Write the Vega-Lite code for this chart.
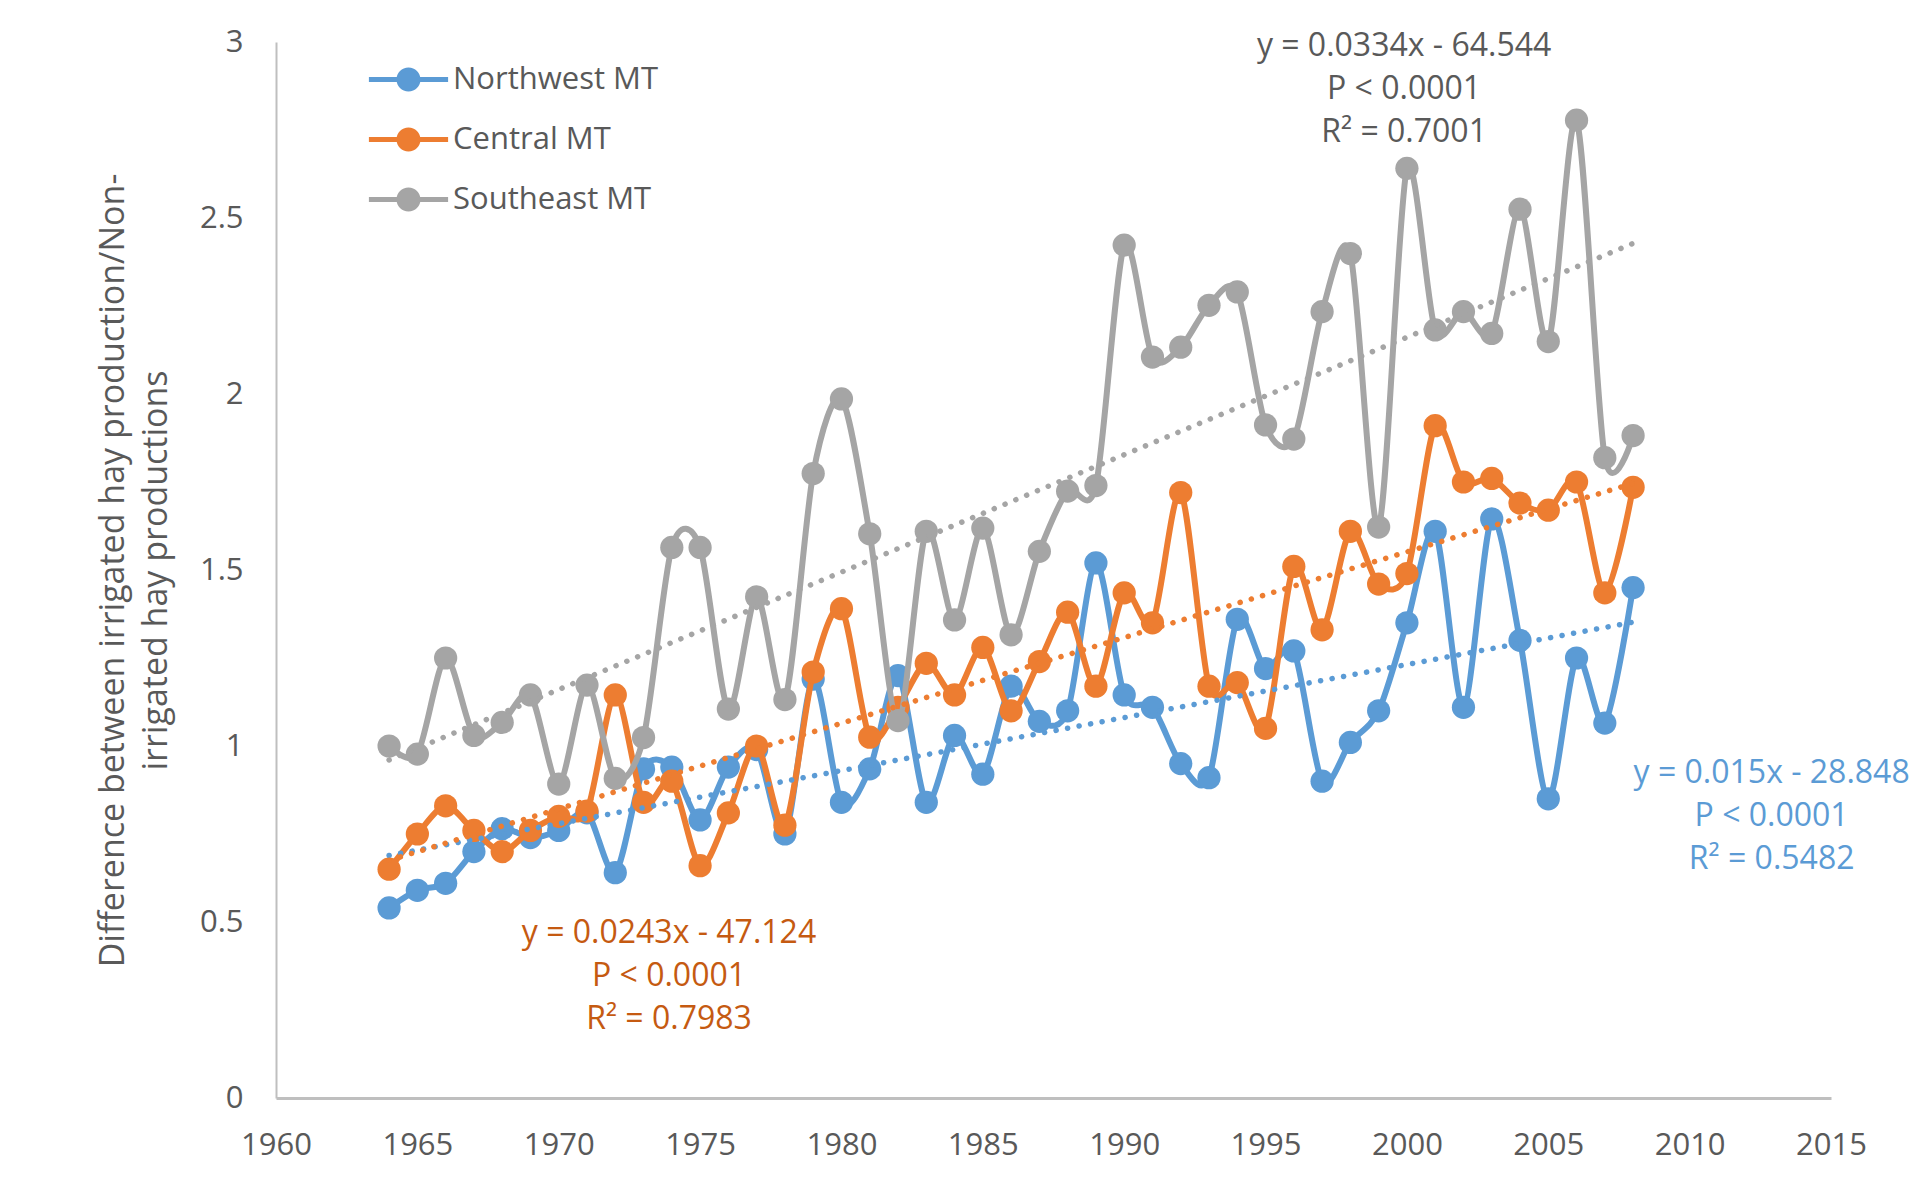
{
  "$schema": "https://vega.github.io/schema/vega-lite/v6.json",
  "width": 1555,
  "height": 1056,
  "autosize": {"type": "none"},
  "padding": {"left": 276, "top": 42, "right": 95, "bottom": 100},
  "background": "white",
  "config": {
    "view": {"stroke": null},
    "font": "Open Sans",
    "axis": {"labelFont": "Open Sans", "titleFont": "Open Sans", "labelFontSize": 31, "labelColor": "#595959", "titleColor": "#595959", "ticks": false, "grid": false, "labelFlush": false},
    "legend": {"labelFont": "Open Sans"}
  },
  "datasets": {
    "hay": [
      {"series": "Northwest MT", "year": 1964, "value": 0.54},
      {"series": "Northwest MT", "year": 1965, "value": 0.59},
      {"series": "Northwest MT", "year": 1966, "value": 0.61},
      {"series": "Northwest MT", "year": 1967, "value": 0.70},
      {"series": "Northwest MT", "year": 1968, "value": 0.765},
      {"series": "Northwest MT", "year": 1969, "value": 0.74},
      {"series": "Northwest MT", "year": 1970, "value": 0.76},
      {"series": "Northwest MT", "year": 1971, "value": 0.81},
      {"series": "Northwest MT", "year": 1972, "value": 0.64},
      {"series": "Northwest MT", "year": 1973, "value": 0.935},
      {"series": "Northwest MT", "year": 1974, "value": 0.94},
      {"series": "Northwest MT", "year": 1975, "value": 0.79},
      {"series": "Northwest MT", "year": 1976, "value": 0.94},
      {"series": "Northwest MT", "year": 1977, "value": 0.99},
      {"series": "Northwest MT", "year": 1978, "value": 0.75},
      {"series": "Northwest MT", "year": 1979, "value": 1.19},
      {"series": "Northwest MT", "year": 1980, "value": 0.84},
      {"series": "Northwest MT", "year": 1981, "value": 0.935},
      {"series": "Northwest MT", "year": 1982, "value": 1.20},
      {"series": "Northwest MT", "year": 1983, "value": 0.84},
      {"series": "Northwest MT", "year": 1984, "value": 1.03},
      {"series": "Northwest MT", "year": 1985, "value": 0.92},
      {"series": "Northwest MT", "year": 1986, "value": 1.17},
      {"series": "Northwest MT", "year": 1987, "value": 1.07},
      {"series": "Northwest MT", "year": 1988, "value": 1.10},
      {"series": "Northwest MT", "year": 1989, "value": 1.52},
      {"series": "Northwest MT", "year": 1990, "value": 1.145},
      {"series": "Northwest MT", "year": 1991, "value": 1.11},
      {"series": "Northwest MT", "year": 1992, "value": 0.95},
      {"series": "Northwest MT", "year": 1993, "value": 0.91},
      {"series": "Northwest MT", "year": 1994, "value": 1.36},
      {"series": "Northwest MT", "year": 1995, "value": 1.22},
      {"series": "Northwest MT", "year": 1996, "value": 1.27},
      {"series": "Northwest MT", "year": 1997, "value": 0.90},
      {"series": "Northwest MT", "year": 1998, "value": 1.01},
      {"series": "Northwest MT", "year": 1999, "value": 1.10},
      {"series": "Northwest MT", "year": 2000, "value": 1.35},
      {"series": "Northwest MT", "year": 2001, "value": 1.61},
      {"series": "Northwest MT", "year": 2002, "value": 1.11},
      {"series": "Northwest MT", "year": 2003, "value": 1.645},
      {"series": "Northwest MT", "year": 2004, "value": 1.30},
      {"series": "Northwest MT", "year": 2005, "value": 0.85},
      {"series": "Northwest MT", "year": 2006, "value": 1.25},
      {"series": "Northwest MT", "year": 2007, "value": 1.065},
      {"series": "Northwest MT", "year": 2008, "value": 1.45},
      {"series": "Central MT", "year": 1964, "value": 0.65},
      {"series": "Central MT", "year": 1965, "value": 0.75},
      {"series": "Central MT", "year": 1966, "value": 0.83},
      {"series": "Central MT", "year": 1967, "value": 0.76},
      {"series": "Central MT", "year": 1968, "value": 0.70},
      {"series": "Central MT", "year": 1969, "value": 0.76},
      {"series": "Central MT", "year": 1970, "value": 0.80},
      {"series": "Central MT", "year": 1971, "value": 0.815},
      {"series": "Central MT", "year": 1972, "value": 1.145},
      {"series": "Central MT", "year": 1973, "value": 0.84},
      {"series": "Central MT", "year": 1974, "value": 0.90},
      {"series": "Central MT", "year": 1975, "value": 0.66},
      {"series": "Central MT", "year": 1976, "value": 0.81},
      {"series": "Central MT", "year": 1977, "value": 1.00},
      {"series": "Central MT", "year": 1978, "value": 0.775},
      {"series": "Central MT", "year": 1979, "value": 1.21},
      {"series": "Central MT", "year": 1980, "value": 1.39},
      {"series": "Central MT", "year": 1981, "value": 1.025},
      {"series": "Central MT", "year": 1982, "value": 1.11},
      {"series": "Central MT", "year": 1983, "value": 1.235},
      {"series": "Central MT", "year": 1984, "value": 1.145},
      {"series": "Central MT", "year": 1985, "value": 1.28},
      {"series": "Central MT", "year": 1986, "value": 1.10},
      {"series": "Central MT", "year": 1987, "value": 1.24},
      {"series": "Central MT", "year": 1988, "value": 1.38},
      {"series": "Central MT", "year": 1989, "value": 1.17},
      {"series": "Central MT", "year": 1990, "value": 1.435},
      {"series": "Central MT", "year": 1991, "value": 1.35},
      {"series": "Central MT", "year": 1992, "value": 1.72},
      {"series": "Central MT", "year": 1993, "value": 1.17},
      {"series": "Central MT", "year": 1994, "value": 1.18},
      {"series": "Central MT", "year": 1995, "value": 1.05},
      {"series": "Central MT", "year": 1996, "value": 1.51},
      {"series": "Central MT", "year": 1997, "value": 1.33},
      {"series": "Central MT", "year": 1998, "value": 1.61},
      {"series": "Central MT", "year": 1999, "value": 1.46},
      {"series": "Central MT", "year": 2000, "value": 1.49},
      {"series": "Central MT", "year": 2001, "value": 1.91},
      {"series": "Central MT", "year": 2002, "value": 1.75},
      {"series": "Central MT", "year": 2003, "value": 1.76},
      {"series": "Central MT", "year": 2004, "value": 1.69},
      {"series": "Central MT", "year": 2005, "value": 1.67},
      {"series": "Central MT", "year": 2006, "value": 1.75},
      {"series": "Central MT", "year": 2007, "value": 1.435},
      {"series": "Central MT", "year": 2008, "value": 1.735},
      {"series": "Southeast MT", "year": 1964, "value": 1.00},
      {"series": "Southeast MT", "year": 1965, "value": 0.977},
      {"series": "Southeast MT", "year": 1966, "value": 1.25},
      {"series": "Southeast MT", "year": 1967, "value": 1.03},
      {"series": "Southeast MT", "year": 1968, "value": 1.067},
      {"series": "Southeast MT", "year": 1969, "value": 1.145},
      {"series": "Southeast MT", "year": 1970, "value": 0.892},
      {"series": "Southeast MT", "year": 1971, "value": 1.173},
      {"series": "Southeast MT", "year": 1972, "value": 0.908},
      {"series": "Southeast MT", "year": 1973, "value": 1.024},
      {"series": "Southeast MT", "year": 1974, "value": 1.564},
      {"series": "Southeast MT", "year": 1975, "value": 1.564},
      {"series": "Southeast MT", "year": 1976, "value": 1.105},
      {"series": "Southeast MT", "year": 1977, "value": 1.424},
      {"series": "Southeast MT", "year": 1978, "value": 1.132},
      {"series": "Southeast MT", "year": 1979, "value": 1.774},
      {"series": "Southeast MT", "year": 1980, "value": 1.986},
      {"series": "Southeast MT", "year": 1981, "value": 1.603},
      {"series": "Southeast MT", "year": 1982, "value": 1.072},
      {"series": "Southeast MT", "year": 1983, "value": 1.61},
      {"series": "Southeast MT", "year": 1984, "value": 1.358},
      {"series": "Southeast MT", "year": 1985, "value": 1.619},
      {"series": "Southeast MT", "year": 1986, "value": 1.316},
      {"series": "Southeast MT", "year": 1987, "value": 1.553},
      {"series": "Southeast MT", "year": 1988, "value": 1.724},
      {"series": "Southeast MT", "year": 1989, "value": 1.74},
      {"series": "Southeast MT", "year": 1990, "value": 2.423},
      {"series": "Southeast MT", "year": 1991, "value": 2.105},
      {"series": "Southeast MT", "year": 1992, "value": 2.133},
      {"series": "Southeast MT", "year": 1993, "value": 2.252},
      {"series": "Southeast MT", "year": 1994, "value": 2.29},
      {"series": "Southeast MT", "year": 1995, "value": 1.912},
      {"series": "Southeast MT", "year": 1996, "value": 1.872},
      {"series": "Southeast MT", "year": 1997, "value": 2.234},
      {"series": "Southeast MT", "year": 1998, "value": 2.399},
      {"series": "Southeast MT", "year": 1999, "value": 1.622},
      {"series": "Southeast MT", "year": 2000, "value": 2.641},
      {"series": "Southeast MT", "year": 2001, "value": 2.182},
      {"series": "Southeast MT", "year": 2002, "value": 2.234},
      {"series": "Southeast MT", "year": 2003, "value": 2.172},
      {"series": "Southeast MT", "year": 2004, "value": 2.525},
      {"series": "Southeast MT", "year": 2005, "value": 2.149},
      {"series": "Southeast MT", "year": 2006, "value": 2.778},
      {"series": "Southeast MT", "year": 2007, "value": 1.819},
      {"series": "Southeast MT", "year": 2008, "value": 1.882}
    ],
    "notes": [
      {"series": "Southeast MT", "year": 1999.9, "value": 2.99, "label": ["y = 0.0334x - 64.544", "P < 0.0001", "R² = 0.7001"]},
      {"series": "Central MT", "year": 1973.9, "value": 0.468, "label": ["y = 0.0243x - 47.124", "P < 0.0001", "R² = 0.7983"]},
      {"series": "Northwest MT", "year": 2012.9, "value": 0.922, "label": ["y = 0.015x - 28.848", "P < 0.0001", "R² = 0.5482"]}
    ]
  },
  "encoding": {
    "x": {"field": "year", "type": "quantitative", "scale": {"domain": [1960, 2015], "nice": false, "zero": false},
      "axis": {"values": [1960, 1965, 1970, 1975, 1980, 1985, 1990, 1995, 2000, 2005, 2010, 2015], "format": "d", "title": null, "labelPadding": 32, "domainColor": "#BFBFBF", "domainWidth": 3, "labelOverlap": false}},
    "y": {"field": "value", "type": "quantitative", "scale": {"domain": [0, 3], "nice": false},
      "axis": {"values": [0, 0.5, 1, 1.5, 2, 2.5, 3], "format": "~g", "labelPadding": 33, "domainColor": "#BFBFBF", "domainWidth": 2,
        "title": ["Difference between irrigated hay production/Non-", "irrigated hay productions"], "titleFontSize": 34, "titleFontWeight": "normal", "titleLineHeight": 43, "titlePadding": 26}}
  },
  "layer": [
    {
      "data": {"name": "hay"},
      "transform": [{"filter": "datum.series === 'Northwest MT'"}],
      "mark": {"type": "line", "interpolate": "cardinal", "tension": 0.15, "strokeWidth": 6, "color": "#5B9BD5"}
    },
    {
      "data": {"name": "hay"},
      "transform": [{"filter": "datum.series === 'Northwest MT'"}],
      "mark": {"type": "point", "filled": true, "shape": "circle", "size": 540, "opacity": 1},
      "encoding": {
        "color": {"field": "series", "type": "nominal",
          "scale": {"domain": ["Northwest MT", "Central MT", "Southeast MT"], "range": ["#5B9BD5", "#ED7D31", "#A5A5A5"]},
          "legend": {"orient": "none", "legendX": 117, "legendY": 22, "title": null, "labelFontSize": 31, "labelColor": "#595959", "labelLimit": 0,
            "symbolType": "M-3.3,-0.2 L3.3,-0.2 L3.3,0.2 L-3.3,0.2 Z M-1,0 A1,1 0 1,1 1,0 A1,1 0 1,1 -1,0 Z",
            "symbolSize": 576, "symbolStrokeWidth": 0, "symbolOpacity": 1, "labelOffset": 29, "rowPadding": 28, "padding": 0}}
      }
    },
    {
      "data": {"name": "hay"},
      "transform": [{"filter": "datum.series === 'Central MT'"}],
      "mark": {"type": "line", "interpolate": "cardinal", "tension": 0.15, "strokeWidth": 6, "color": "#ED7D31"}
    },
    {
      "data": {"name": "hay"},
      "transform": [{"filter": "datum.series === 'Central MT'"}],
      "mark": {"type": "point", "filled": true, "shape": "circle", "size": 540, "opacity": 1},
      "encoding": {"color": {"field": "series", "type": "nominal", "legend": null}}
    },
    {
      "data": {"name": "hay"},
      "transform": [{"filter": "datum.series === 'Southeast MT'"}],
      "mark": {"type": "line", "interpolate": "cardinal", "tension": 0.15, "strokeWidth": 6, "color": "#A5A5A5"}
    },
    {
      "data": {"name": "hay"},
      "transform": [{"filter": "datum.series === 'Southeast MT'"}],
      "mark": {"type": "point", "filled": true, "shape": "circle", "size": 540, "opacity": 1},
      "encoding": {"color": {"field": "series", "type": "nominal", "legend": null}}
    },
    {
      "data": {"name": "hay"},
      "transform": [{"regression": "value", "on": "year", "groupby": ["series"], "extent": [1964, 2008]}],
      "mark": {"type": "line", "strokeDash": [0.1, 11.6], "strokeCap": "round", "strokeWidth": 5.5},
      "encoding": {"color": {"field": "series", "type": "nominal", "legend": null}}
    },
    {
      "data": {"name": "notes"},
      "transform": [{"filter": "datum.series === 'Southeast MT'"}],
      "mark": {"type": "text", "fontSize": 32, "font": "Open Sans", "lineHeight": 43, "align": "center", "baseline": "middle", "color": "#595959"},
      "encoding": {"text": {"field": "label"}}
    },
    {
      "data": {"name": "notes"},
      "transform": [{"filter": "datum.series === 'Central MT'"}],
      "mark": {"type": "text", "fontSize": 32, "font": "Open Sans", "lineHeight": 43, "align": "center", "baseline": "middle", "color": "#C55A11"},
      "encoding": {"text": {"field": "label"}}
    },
    {
      "data": {"name": "notes"},
      "transform": [{"filter": "datum.series === 'Northwest MT'"}],
      "mark": {"type": "text", "fontSize": 32, "font": "Open Sans", "lineHeight": 43, "align": "center", "baseline": "middle", "color": "#5B9BD5"},
      "encoding": {"text": {"field": "label"}}
    }
  ]
}
